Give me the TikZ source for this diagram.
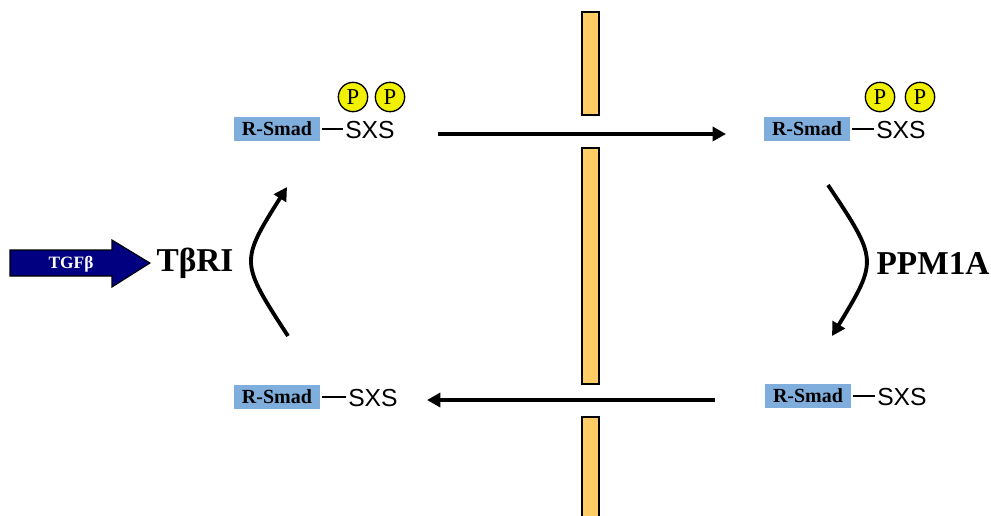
\documentclass[tikz,border=0pt]{standalone}
\usepackage{fontspec}
\setmainfont{Liberation Serif}
\newfontfamily\sxsfont{Liberation Sans}
\usetikzlibrary{arrows.meta}
\definecolor{smadblue}{RGB}{128,174,220}
\definecolor{membrane}{RGB}{255,204,102}
\definecolor{tgfnavy}{RGB}{0,0,128}
\definecolor{phosyellow}{RGB}{240,240,0}

\begin{document}
\begin{tikzpicture}[x=0.75pt,y=-0.75pt,
  smad/.style={fill=smadblue,minimum width=65pt,minimum height=18pt,inner sep=0pt,font=\fontsize{15}{15}\selectfont\bfseries},
  sxs/.style={anchor=west,inner sep=0pt,font=\sxsfont\fontsize{18.5}{18.5}\selectfont},
  link/.style={line width=1.3pt,shorten <=1pt,shorten >=1.5pt},
  phos/.style={circle,draw,line width=1pt,fill=phosyellow,minimum size=22pt,inner sep=0pt,font=\fontsize{17}{17}\selectfont},
  bar/.style={draw,line width=1.6pt,fill=membrane},
  flow/.style={line width=2.9pt,-{Triangle[length=10pt,width=10.5pt]}},
  big/.style={font=\fontsize{25}{25}\selectfont\bfseries}]
\useasboundingbox (0,0) rectangle (991,515);

% membrane
\draw[bar] (582,12) rectangle (599,115);
\draw[bar] (582,148) rectangle (599,384);
\draw[bar] (582,417) rectangle (599,520);

% phosphorylated R-Smad, both sides
\node[smad] (smadTL) at (277,129) {R-Smad};
\node[sxs] (sxsTL) at (345,130) {SXS};
\draw[link] (smadTL.east) -- (smadTL.east -| sxsTL.west);
\node[phos] (pTL1) at (353,97) {P};
\node[phos] (pTL2) at (390,97) {P};

\node[smad] (smadTR) at (807,129) {R-Smad};
\node[sxs] (sxsTR) at (876,130) {SXS};
\draw[link] (smadTR.east) -- (smadTR.east -| sxsTR.west);
\node[phos] (pTR1) at (880,97) {P};
\node[phos] (pTR2) at (920,97) {P};

% unphosphorylated R-Smad
\node[smad] (smadBL) at (277,397) {R-Smad};
\node[sxs] (sxsBL) at (348,398) {SXS};
\draw[link] (smadBL.east) -- (smadBL.east -| sxsBL.west);

\node[smad] (smadBR) at (808,396) {R-Smad};
\node[sxs] (sxsBR) at (877,397) {SXS};
\draw[link] (smadBR.east) -- (smadBR.east -| sxsBR.west);

% import / export across the membrane
\coordinate (inA) at (438,134);
\coordinate (inB) at (726,134);
\coordinate (outA) at (715,400);
\coordinate (outB) at (427,400);
\draw[flow] (inA) -- (inB);
\draw[flow] (outA) -- (outB);

% phosphorylation and dephosphorylation
\coordinate (leftA) at (288,336);
\coordinate (leftB) at (287,187);
\coordinate (rightA) at (828,185);
\coordinate (rightB) at (832,336);
\draw[flow] (leftA) .. controls (240,262) and (240,262) .. (leftB);
\draw[flow] (rightA) .. controls (878,260) and (878,260) .. (rightB);

\node[big] (tbri) at (195,263) {TβRI};
\node[big] (ppm) at (933,263) {PPM1A};

% ligand arrow
\draw[fill=tgfnavy,line width=0.8pt] (10,250) -- (112,250) -- (112,240) -- (150,263)
  -- (112,287) -- (112,276) -- (10,276) -- cycle;
\node[text=white,font=\fontsize{13}{13}\selectfont\bfseries] (tgf) at (71,264) {TGFβ};
\end{tikzpicture}
\end{document}
